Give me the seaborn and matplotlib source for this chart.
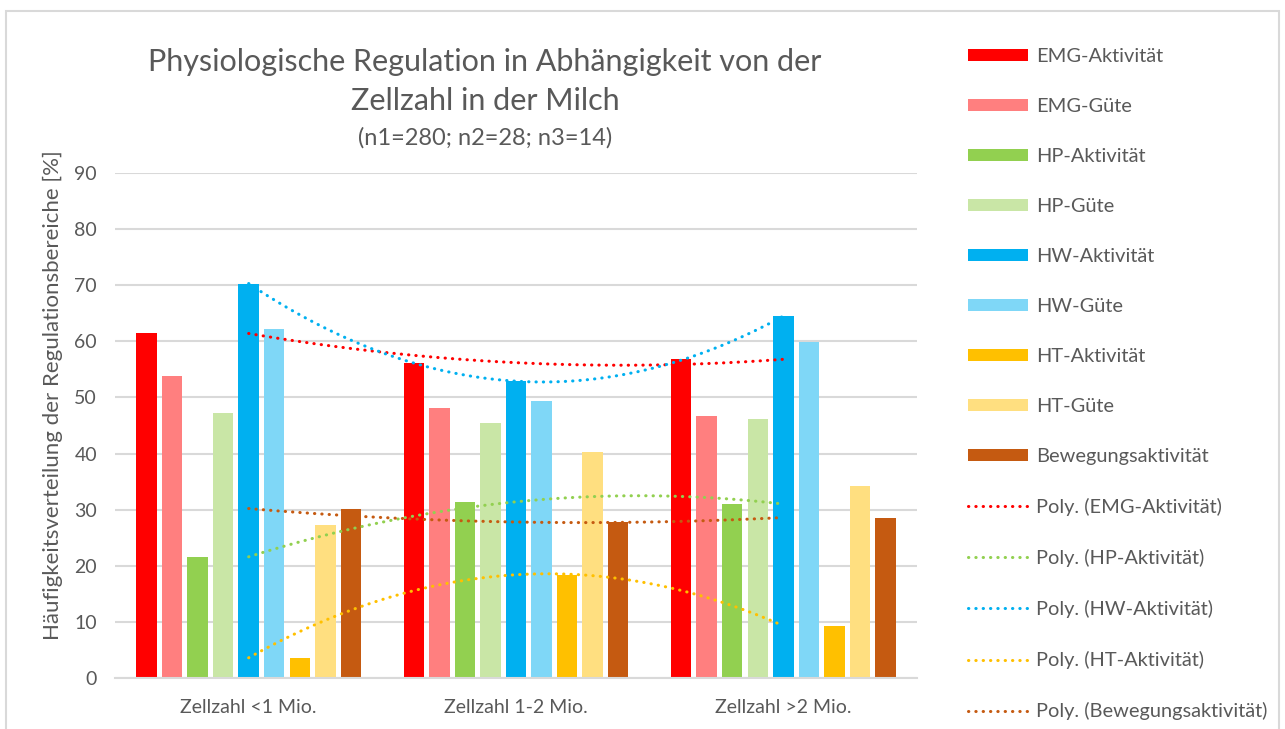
import numpy as np
import pandas as pd
import matplotlib
matplotlib.use('Agg')
import matplotlib.pyplot as plt
import seaborn as sns
from matplotlib.patches import Patch, Rectangle
from matplotlib.lines import Line2D

# Daten
kategorien = ['Zellzahl <1 Mio.', 'Zellzahl 1-2 Mio.', 'Zellzahl >2 Mio.']

emg_aktivitaet = [61.4, 56.2, 56.8]
emg_guete = [53.9, 48.2, 46.7]
hp_aktivitaet = [21.6, 31.4, 31.0]
hp_guete = [47.3, 45.5, 46.1]
hw_aktivitaet = [70.3, 52.9, 64.5]
hw_guete = [62.2, 49.4, 59.8]
ht_aktivitaet = [3.6, 18.4, 9.3]
ht_guete = [27.3, 40.3, 34.3]
bewegung = [30.2, 27.8, 28.6]

reihen = ['EMG-Aktivität', 'EMG-Güte', 'HP-Aktivität', 'HP-Güte', 'HW-Aktivität',
          'HW-Güte', 'HT-Aktivität', 'HT-Güte', 'Bewegungsaktivität']
werte = [emg_aktivitaet, emg_guete, hp_aktivitaet, hp_guete, hw_aktivitaet,
         hw_guete, ht_aktivitaet, ht_guete, bewegung]
farben = ['#FF0000', '#FF7F7F', '#92D050', '#C9E6A6', '#00B0F0',
          '#7FD7F7', '#FFC000', '#FFDF80', '#C55A11']

# Trendlinien (Polynom 2. Ordnung) nur für die Aktivitäten
trend_reihen = ['EMG-Aktivität', 'HP-Aktivität', 'HW-Aktivität', 'HT-Aktivität', 'Bewegungsaktivität']

rows = []
for name, vals in zip(reihen, werte):
    for kat, v in zip(kategorien, vals):
        rows.append({'Kategorie': kat, 'Reihe': name, 'Wert': v})
df = pd.DataFrame(rows)

sns.set_style('white')
plt.rcParams['font.family'] = ['Lato', 'DejaVu Sans']

fig = plt.figure(figsize=(12.85, 7.29), dpi=100)
ax = fig.add_axes([115 / 1285, 1 - 678 / 729, 802 / 1285, 505 / 729])

sns.barplot(data=df, x='Kategorie', y='Wert', hue='Reihe', hue_order=reihen,
            order=kategorien, palette=farben, saturation=1, width=0.86, gap=0.2,
            linewidth=0, legend=False, ax=ax)

farbe_von = dict(zip(reihen, farben))
xs = np.linspace(0, 2, 100)
for name in trend_reihen:
    vals = werte[reihen.index(name)]
    koeff = np.polyfit(np.arange(3), vals, 2)
    ax.plot(xs, np.polyval(koeff, xs), color=farbe_von[name], lw=2.2,
            linestyle=(0, (0.1, 2.3)), dash_capstyle='round', zorder=5)

ax.set_ylim(0, 90)
ax.set_xlim(-0.5, 2.5)
ax.set_yticks(range(0, 91, 10))
ax.yaxis.grid(True, color='#D9D9D9', lw=1.5)
ax.set_axisbelow(True)
for s in ['top', 'right', 'left']:
    ax.spines[s].set_visible(False)
ax.spines['bottom'].set_color('#D9D9D9')
ax.spines['bottom'].set_linewidth(1.5)
ax.tick_params(axis='y', length=0, pad=13, labelsize=14, labelcolor='#595959')
ax.tick_params(axis='x', length=0, pad=15, labelsize=14, labelcolor='#595959')
ax.set_xlabel('')
ax.set_ylabel('Häufigkeitsverteilung der Regulationsbereiche [%]', fontsize=16,
              color='#595959', labelpad=8, y=0.56)

# Titel
fig.text(485 / 1285, 1 - 62 / 729, 'Physiologische Regulation in Abhängigkeit von der',
         ha='center', va='center', fontsize=22, color='#595959')
fig.text(485 / 1285, 1 - 101 / 729, 'Zellzahl in der Milch',
         ha='center', va='center', fontsize=22, color='#595959')
fig.text(485 / 1285, 1 - 138 / 729, '(n1=280; n2=28; n3=14)',
         ha='center', va='center', fontsize=17, color='#595959')

# Legende
handles = [Patch(facecolor=c, edgecolor='none') for c in farben]
labels = list(reihen)
for name in trend_reihen:
    handles.append(Line2D([0], [0], color=farbe_von[name], lw=2.2,
                          linestyle=(0, (0.1, 2.3)), dash_capstyle='round'))
    labels.append('Poly. (' + name + ')')
fig.legend(handles, labels, loc='upper left', bbox_to_anchor=(950 / 1285, 1 - 30 / 729),
           frameon=False, fontsize=14.4, handlelength=3.0, handleheight=0.6,
           handletextpad=0.4, labelspacing=1.65, labelcolor='#595959')

# Rahmen ums Diagramm
fig.patches.append(Rectangle((6 / 1285, -0.02), 1273 / 1285, 1.02 - 11 / 729,
                             transform=fig.transFigure, fill=False,
                             edgecolor='#D9D9D9', lw=1.5))

fig.savefig('out.png', dpi=100)
